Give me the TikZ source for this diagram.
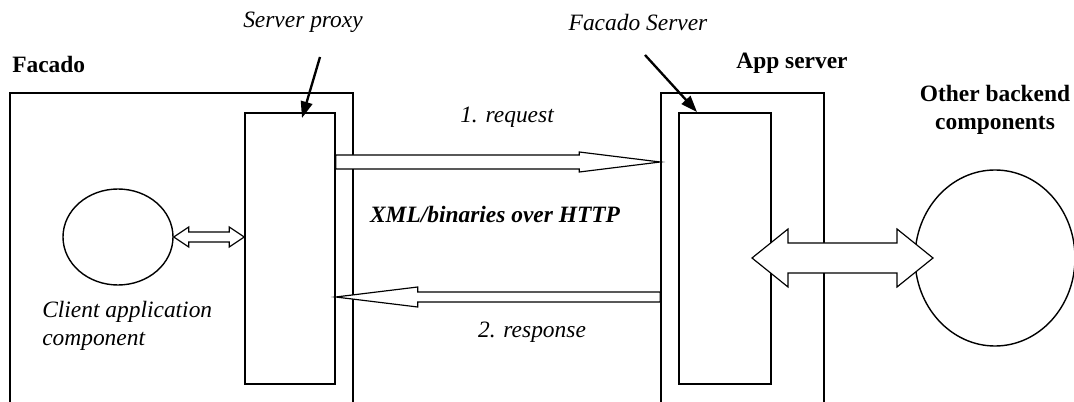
\documentclass[tikz,border=0pt]{standalone}
\usepackage{fontspec}
\setmainfont{Liberation Serif}
\usetikzlibrary{shapes.geometric,arrows.meta,calc}

% hollow block arrows: tail, tip, shaft half width, head half width, head length
\newcommand{\fatarrow}[5]{%
  \draw[fat] ($(#1)+(0,{-(#3)})$) -- ($(#2)+({-1*(#5)},{-(#3)})$) -- ($(#2)+({-1*(#5)},{-(#4)})$)
    -- (#2) -- ($(#2)+({-1*(#5)},{#4})$) -- ($(#2)+({-1*(#5)},{#3})$) -- ($(#1)+(0,{#3})$) -- cycle;}
\newcommand{\fatdouble}[5]{%
  \draw[fat] (#1) -- ($(#1)+({#5},{-(#4)})$) -- ($(#1)+({#5},{-(#3)})$) -- ($(#2)+({-1*(#5)},{-(#3)})$)
    -- ($(#2)+({-1*(#5)},{-(#4)})$) -- (#2) -- ($(#2)+({-1*(#5)},{#4})$) -- ($(#2)+({-1*(#5)},{#3})$)
    -- ($(#1)+({#5},{#3})$) -- ($(#1)+({#5},{#4})$) -- cycle;}

\begin{document}
\begin{tikzpicture}[x=0.015cm, y=-0.015cm,
		box/.style={rectangle,draw,line width=0.6pt,inner sep=0pt},
		comp/.style={ellipse,draw,line width=0.6pt,inner sep=0pt},
		fat/.style={draw,fill=white,line width=0.5pt,line join=miter},
		pointer/.style={-{Triangle[length=7pt,width=5pt]},line width=1pt},
		lbl/.style={font=\itshape},
		title/.style={font=\bfseries}]
		\useasboundingbox (0,0) rectangle (1074,402);
		\clip (0,0) rectangle (1074,402);

		\node[box,minimum width=5.145cm,minimum height=4.905cm] (facado) at (181.5,256.5) {};
		\node[box,minimum width=1.35cm,minimum height=4.065cm] (proxy) at (290,248.5) {};
		\node[box,minimum width=2.445cm,minimum height=4.905cm] (app) at (742.5,256.5) {};
		\node[box,minimum width=1.38cm,minimum height=4.065cm] (fserver) at (725,248.5) {};
		\node[comp,minimum width=1.65cm,minimum height=1.44cm] (client) at (118,237) {};
		\node[comp,minimum width=2.4cm,minimum height=2.64cm] (backend) at (995,258) {};

		\node[title,anchor=west] (facadolbl) at (4,64) {Facado};
		\node[lbl] (proxylbl) at (303,22) {Server proxy};
		\node[lbl] (fserverlbl) at (638,22) {Facado Server};
		\node[title] (applbl) at (792,63) {App server};
		\node[title,align=center] (backendlbl) at (995,110) {Other backend\\components};
		\node[lbl] (reqlbl) at (507,117) {1. request};
		\node[font=\bfseries\itshape] (xmllbl) at (495,215) {XML/binaries over HTTP};
		\node[lbl] (reslbl) at (532,332) {2. response};
		\node[lbl,align=left,anchor=west] (clientlbl) at (34,326) {Client application\\component};

		\coordinate (proxytail) at (320,57);
		\coordinate (proxyhit) at (302,118);
		\coordinate (fservertail) at (645,55);
		\coordinate (fserverhit) at (697,112);
		\draw[pointer] (proxytail) -- (proxyhit);
		\draw[pointer] (fservertail) -- (fserverhit);

		\coordinate (reqtail) at (proxy.east |- 0,162);
		\coordinate (reqtip) at (app.west |- 0,162);
		\coordinate (restail) at (app.west |- 0,297);
		\coordinate (restip) at (proxy.east |- 0,297);
		\coordinate (clientend) at (proxy.west |- client.east);
		\coordinate (bigL) at (752,258);
		\coordinate (bigR) at (933,258);

		\fatarrow{reqtail}{reqtip}{7}{10}{81}
		\fatarrow{restail}{restip}{5}{10}{-82}
		\fatdouble{client.east}{clientend}{5}{10}{15}
		\fatdouble{bigL}{bigR}{15}{29}{36}
	\end{tikzpicture}
\end{document}
